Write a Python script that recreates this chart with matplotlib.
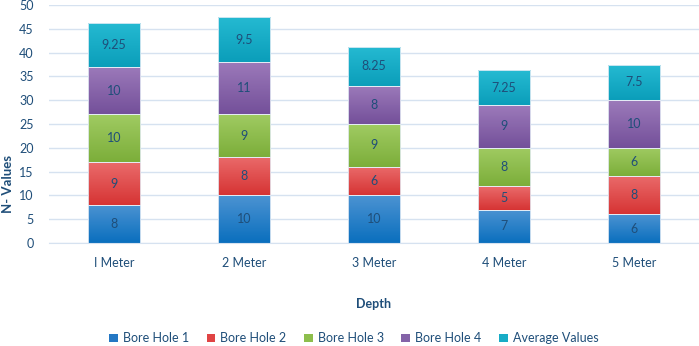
import matplotlib
matplotlib.use("Agg")
import matplotlib.pyplot as plt
import numpy as np
from matplotlib.colors import LinearSegmentedColormap
from matplotlib.patches import Patch

categories = ["I Meter", "2 Meter", "3 Meter", "4 Meter", "5 Meter"]
series_names = ["Bore Hole 1", "Bore Hole 2", "Bore Hole 3", "Bore Hole 4", "Average Values"]
bore1 = [8, 10, 10, 7, 6]
bore2 = [9, 8, 6, 5, 8]
bore3 = [10, 9, 9, 8, 6]
bore4 = [10, 11, 8, 9, 10]
average = [9.25, 9.5, 8.25, 7.25, 7.5]
labels_text = [
    ["8", "10", "10", "7", "6"],
    ["9", "8", "6", "5", "8"],
    ["10", "9", "9", "8", "6"],
    ["10", "11", "8", "9", "10"],
    ["9.25", "9.5", "8.25", "7.25", "7.5"],
]
series = [bore1, bore2, bore3, bore4, average]
top_colors = ["#4C93D2", "#EA6B6B", "#A0CB62", "#9C7ABA", "#25BAD2"]
bot_colors = ["#0A6FBE", "#D63434", "#7CAE3A", "#74509A", "#0B9EBA"]
legend_colors = ["#2478C4", "#E04444", "#8DBE4C", "#8463A8", "#18ACC6"]

txt_color = "#1F4E79"
font = ["Lato", "DejaVu Sans"]
plt.rcParams["font.family"] = font

fig = plt.figure(figsize=(6.99, 3.46), dpi=100)
ax = fig.add_axes([0.070, 0.2977, 0.930, 0.6878])

x = np.arange(len(categories))
width = 0.4
bottom = np.zeros(len(categories))
for i, vals in enumerate(series):
    vals = np.array(vals, dtype=float)
    bars = ax.bar(x, vals, width, bottom=bottom, color="none",
                  edgecolor="#E6EEF7", linewidth=0.6, zorder=3)
    cmap = LinearSegmentedColormap.from_list("g%d" % i, [bot_colors[i], top_colors[i]])
    grad = np.linspace(0, 1, 64).reshape(-1, 1)
    for j, b in enumerate(bars):
        x0 = b.get_x(); w = b.get_width(); y0 = b.get_y(); h = b.get_height()
        im = ax.imshow(grad, cmap=cmap, aspect="auto", origin="lower",
                       extent=[x0, x0 + w, y0, y0 + h], zorder=2, interpolation="bilinear")
        im.set_clip_path(b)
        ax.text(x0 + w / 2, y0 + h / 2, labels_text[i][j], ha="center", va="center",
                color=txt_color, fontsize=9, zorder=4)
    bottom += vals

ax.set_xlim(-0.5, len(categories) - 0.5)
ax.set_ylim(0, 50)
ax.set_yticks(np.arange(0, 51, 5))
ax.yaxis.grid(True, color="#D6E2F0", linewidth=1.0, zorder=0)
ax.set_axisbelow(True)
for s in ["top", "right", "left"]:
    ax.spines[s].set_visible(False)
ax.spines["bottom"].set_color("#D6E2F0")
ax.tick_params(axis="both", length=0, colors=txt_color, labelsize=9)
ax.tick_params(axis="x", pad=10)
ax.tick_params(axis="y", pad=11)
ax.set_xticks(x)
ax.set_xticklabels(categories)

ax.set_ylabel("N- Values", color=txt_color, fontsize=9.5, fontweight="bold")
ax.yaxis.set_label_coords(-0.053, 0.25)
ax.set_xlabel("Depth", color=txt_color, fontsize=9, fontweight="bold", labelpad=21)

handles = [Patch(facecolor=c, edgecolor="none") for c in legend_colors]
leg = fig.legend(handles, series_names, loc="center", bbox_to_anchor=(0.506, 0.022),
                 ncol=5, frameon=False, fontsize=9, handlelength=0.7, handleheight=0.7,
                 handletextpad=0.4, columnspacing=1.4)
for t in leg.get_texts():
    t.set_color(txt_color)

fig.savefig("out.png", dpi=100)
